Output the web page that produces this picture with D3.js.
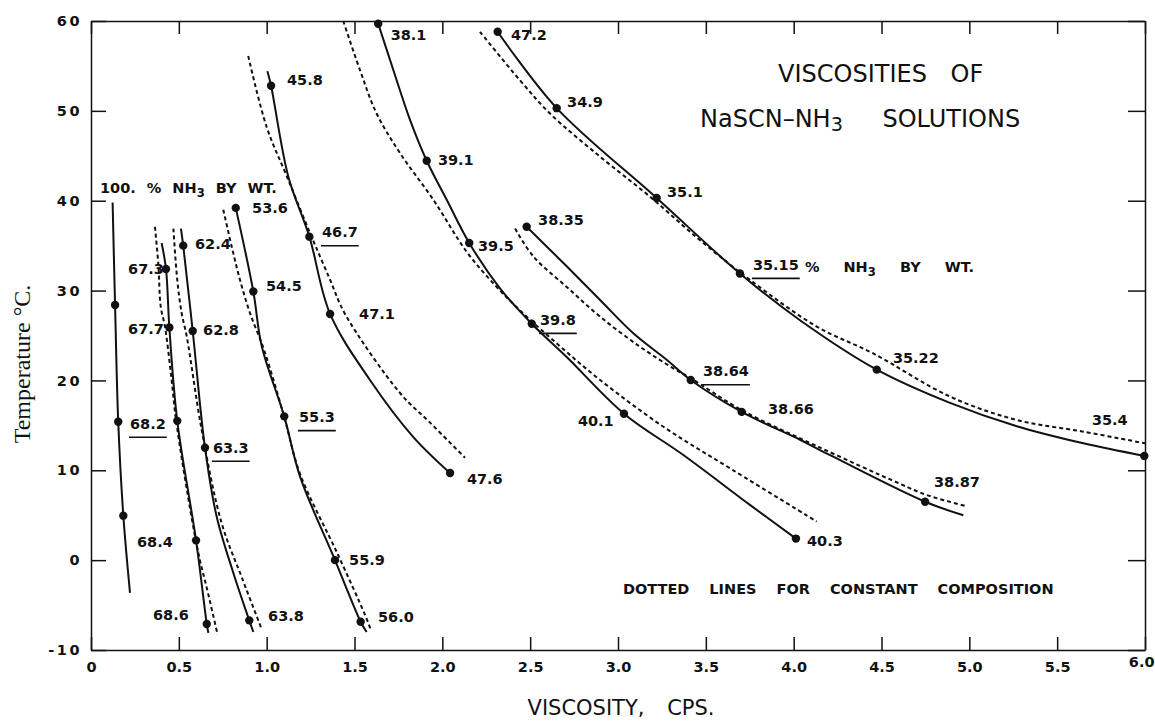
<!DOCTYPE html>
<html lang="en">
<head>
<meta charset="UTF-8">
<title>Viscosities of NaSCN-NH3 Solutions</title>
<script src="https://cdn.jsdelivr.net/npm/d3@7"></script>
<style>
    body { margin: 0; background: #fff; }
    .axis path, .axis line { stroke: #111; stroke-width: 1.5px; }
    .axis text { font-family: "DejaVu Sans", sans-serif; font-weight: bold; font-size: 14.5px; fill: #111; }
    .y-axis text { letter-spacing: 2.5px; }
    .curve { fill: none; stroke: #111; stroke-width: 2px; }
    .curve.dotted { stroke-dasharray: 4,3; }
    .pt { fill: #111; }
    .lbl { font-family: "DejaVu Sans", sans-serif; font-weight: bold; font-size: 14.5px; fill: #111; }
    .title { font-family: "DejaVu Sans", sans-serif; font-size: 24px; fill: #111; }
    .xtitle { font-family: "DejaVu Sans", sans-serif; font-size: 21px; fill: #111; word-spacing: 16px; }
    .ytitle { font-family: "Liberation Serif", "DejaVu Serif", serif; font-size: 24px; fill: #111; }
</style>
</head>
<body>
<div id="chart"></div>
<script>
// viscosity (cps), temperature (°C)
// solid lines = measured series, dotted = constant composition
const solid100 = [[0.123,39.8],[0.137,28.4],[0.155,15.4],[0.184,4.95],[0.222,-3.65]];
const pts100 = [[0.137,28.4],[0.155,15.4],[0.184,4.95]];

const solid67 = [[0.402,35.3],[0.427,32.4],[0.446,25.9],[0.491,15.5],[0.598,2.2],[0.659,-7.1],[0.668,-8.1]];
const dotted67 = [[0.364,37.1],[0.383,33.0],[0.397,28.2],[0.421,26.0],[0.459,20.05],[0.484,15.6],[0.575,4.5],[0.620,0.0],[0.658,-3.0],[0.721,-8.3]];
const pts67 = [[0.427,32.4],[0.446,25.9],[0.491,15.5],[0.598,2.2],[0.659,-7.1]];

const solid62 = [[0.512,36.9],[0.525,35.0],[0.579,25.5],[0.649,12.5],[0.716,4.8],[0.814,-1.65],[0.901,-6.7],[0.924,-8.0]];
const dotted62 = [[0.469,36.9],[0.491,31.2],[0.516,27.5],[0.545,24.9],[0.630,14.5],[0.744,4.1],[0.860,-2.0],[0.972,-7.7]];
const pts62 = [[0.525,35.0],[0.579,25.5],[0.649,12.5],[0.901,-6.7]];

const solid53 = [[0.824,39.2],[0.924,29.9],[0.972,23.8],[1.100,16.0],[1.190,9.3],[1.389,0.0],[1.535,-6.85],[1.569,-8.0]];
const dotted53 = [[0.753,39.0],[0.801,34.9],[0.848,31.2],[0.905,27.5],[0.985,23.4],[1.099,16.0],[1.190,9.6],[1.406,0.6],[1.560,-6.1],[1.594,-7.8]];
const pts53 = [[0.824,39.2],[0.924,29.9],[1.100,16.0],[1.389,0.0],[1.535,-6.85]];

const solid45 = [[1.004,54.4],[1.025,52.8],[1.123,42.7],[1.243,36.0],[1.361,27.4],[1.588,20.05],[1.835,13.7],[2.044,9.7]];
const dotted45 = [[0.895,56.1],[1.000,48.2],[1.114,42.75],[1.247,36.4],[1.361,31.2],[1.446,27.4],[1.759,18.6],[1.930,15.3],[2.129,11.4]];
const pts45 = [[1.025,52.8],[1.243,36.0],[1.361,27.4],[2.044,9.7]];

const solid38 = [[1.635,59.7],[1.721,54.55],[1.816,49.0],[1.911,44.45],[2.025,40.1],[2.153,35.3],[2.328,30.25],[2.509,26.3],[2.708,22.6],[3.034,16.3],[3.372,11.7],[3.751,6.15],[4.013,2.4]];
const dotted38 = [[1.436,60.0],[1.531,54.55],[1.626,49.7],[1.759,45.3],[1.949,40.1],[2.139,34.3],[2.300,30.6],[2.442,27.8],[2.670,23.8],[2.898,20.05],[3.258,14.85],[3.656,10.0],[4.131,4.3]];
const pts38 = [[1.635,59.7],[1.911,44.45],[2.153,35.3],[2.509,26.3],[3.034,16.3],[4.013,2.4]];

const solid383 = [[2.480,37.1],[2.708,32.7],[2.898,28.95],[3.087,25.25],[3.277,22.3],[3.414,20.05],[3.704,16.5],[4.036,13.4],[4.131,12.45],[4.748,6.5],[4.966,5.0]];
const dotted383 = [[2.414,36.9],[2.518,33.8],[2.708,30.4],[2.898,27.1],[3.125,23.75],[3.315,21.35],[3.414,20.25],[3.704,16.7],[4.131,12.7],[4.605,8.5],[4.757,7.25],[4.985,6.0]];
const pts383 = [[2.480,37.1],[3.414,20.05],[3.704,16.5],[4.748,6.5]];

const solid47 = [[2.315,58.8],[2.651,50.3],[3.220,40.3],[3.694,31.9],[4.036,26.7],[4.473,21.2],[4.890,17.5],[5.270,14.9],[5.649,13.0],[5.996,11.6]];
const dotted47 = [[2.214,58.8],[2.442,53.4],[2.613,49.7],[2.898,44.9],[3.182,40.45],[3.467,35.6],[3.751,31.2],[4.131,26.0],[4.453,23.0],[4.890,18.2],[5.270,15.6],[5.649,14.3],[6.0,13.0]];
const pts47 = [[2.315,58.8],[2.651,50.3],[3.220,40.3],[3.694,31.9],[4.473,21.2],[5.996,11.6]];

// % NH3 by wt at the points: text, x, y, underlined
const labels = [
    ["45.8",1.116,53.43,0], ["53.6",0.917,39.16,0], ["62.4",0.592,35.26,0], ["46.7",1.315,36.55,1],
    ["67.3",0.211,32.37,0], ["54.5",0.996,30.51,0], ["47.1",1.526,27.47,0], ["67.7",0.211,25.80,0],
    ["62.8",0.638,25.61,0], ["68.2",0.222,15.23,1], ["55.3",1.184,15.97,1], ["63.3",0.694,12.56,1],
    ["68.4",0.262,2.05,0], ["55.9",1.469,0.02,0], ["68.6",0.353,-6.10,0], ["63.8",1.008,-6.21,0],
    ["56.0",1.634,-6.29,0], ["47.6",2.140,9.11,0], ["40.1",2.772,15.49,0], ["38.64",3.484,21.08,1],
    ["38.66",3.854,16.90,0], ["38.87",4.799,8.73,0], ["40.3",4.076,2.13,0], ["35.4",5.698,15.60,0],
    ["38.1",1.706,58.44,0], ["47.2",2.391,58.44,0], ["34.9",2.710,51.02,0], ["39.1",1.975,44.61,0],
    ["35.1",3.279,41.00,0], ["38.35",2.545,37.85,0], ["39.5",2.203,34.99,0], ["35.15",3.768,32.92,1],
    ["39.8",2.556,26.80,1], ["35.22",4.565,22.50,0]
];

const xTicks = [0,0.5,1,1.5,2,2.5,3,3.5,4,4.5,5,5.5,6];
const yTicks = [-10,0,10,20,30,40,50,60];

const W = 1155, H = 727;
const margin = { top: 21, right: 10, bottom: 77, left: 91 };
const width = W - margin.left - margin.right;
const height = H - margin.top - margin.bottom;

const svg = d3.select("#chart").append("svg").attr("width", W).attr("height", H);
const g = svg.append("g").attr("transform", `translate(${margin.left},${margin.top})`);

const x = d3.scaleLinear().domain([0, 6]).range([0, width]);
const y = d3.scaleLinear().domain([-10, 60]).range([height, 0]);

// axes, ticks point inward on all four sides
const xAxis = g.append("g").attr("class", "axis x-axis").attr("transform", `translate(0,${height})`)
    .call(d3.axisBottom(x).tickValues(xTicks).tickFormat(d => d === 0 ? "0" : d3.format(".1f")(d))
        .tickSizeInner(-13).tickSizeOuter(0).tickPadding(12));
// last label sits at the page edge, keep it inside
xAxis.selectAll(".tick text").filter(d => d === 6).attr("text-anchor", "end").attr("x", 9).attr("y", 7);

g.append("g").attr("class", "axis")
    .call(d3.axisTop(x).tickValues(xTicks).tickFormat("").tickSizeInner(-13).tickSizeOuter(0));
g.append("g").attr("class", "axis y-axis")
    .call(d3.axisLeft(y).tickValues(yTicks).tickFormat(d => String(d))
        .tickSizeInner(-15).tickSizeOuter(0).tickPadding(9));
g.append("g").attr("class", "axis").attr("transform", `translate(${width},0)`)
    .call(d3.axisRight(y).tickValues(yTicks).tickFormat("").tickSizeInner(-17).tickSizeOuter(0));

const line = d3.line().x(d => x(d[0])).y(d => y(d[1])).curve(d3.curveCatmullRom.alpha(0.5));

[dotted67, dotted62, dotted53, dotted45, dotted38, dotted383, dotted47].forEach(s => {
    g.append("path").attr("class", "curve dotted").attr("d", line(s));
});
[solid100, solid67, solid62, solid53, solid45, solid38, solid383, solid47].forEach(s => {
    g.append("path").attr("class", "curve").attr("d", line(s));
});

const allPts = [].concat(pts100, pts67, pts62, pts53, pts45, pts38, pts383, pts47);
g.selectAll(".pt").data(allPts).enter().append("circle")
    .attr("class", "pt")
    .attr("cx", d => x(d[0]))
    .attr("cy", d => y(d[1]))
    .attr("r", 4.2);

// point labels
labels.forEach(([t, lx, ly, u]) => {
    const txt = g.append("text").attr("class", "lbl")
        .attr("x", x(lx)).attr("y", y(ly)).attr("dy", "0.36em").text(t);
    if (u) {
        const w = txt.node().getComputedTextLength();
        g.append("line").attr("x1", x(lx) - 1).attr("x2", x(lx) + w + 1)
            .attr("y1", y(ly) + 14).attr("y2", y(ly) + 14)
            .attr("stroke", "#111").attr("stroke-width", 1.6);
    }
});

// annotation texts with subscript 3
function nh3Text(cls, tx, ty, before, after, ws) {
    const t = g.append("text").attr("class", cls).attr("x", x(tx)).attr("y", y(ty)).attr("dy", "0.36em")
        .style("word-spacing", ws);
    t.append("tspan").text(before);
    t.append("tspan").attr("dy", 4).style("font-size", "0.8em").text("3");
    t.append("tspan").attr("dy", -4).text(after);
    return t;
}
nh3Text("lbl", 0.051, 41.42, "100. % NH", " BY WT.", "6px");
nh3Text("lbl", 4.064, 32.66, "% NH", " BY WT.", "19px");

g.append("text").attr("class", "title").attr("x", x(3.911)).attr("y", y(54.18)).attr("dy", "0.36em")
    .style("word-spacing", "16px").text("VISCOSITIES OF");
nh3Text("title", 3.467, 49.17, "NaSCN\u2013NH", " SOLUTIONS", "32px");

g.append("text").attr("class", "lbl").attr("x", x(3.028)).attr("y", y(-3.24)).attr("dy", "0.36em")
    .style("word-spacing", "15px").text("DOTTED LINES FOR CONSTANT COMPOSITION");

// axis titles
svg.append("text").attr("class", "xtitle").attr("x", 621).attr("y", 707).attr("dy", "0.36em")
    .attr("text-anchor", "middle").text("VISCOSITY, CPS.");
svg.append("text").attr("class", "ytitle").attr("transform", "translate(21,364) rotate(-90)")
    .attr("dy", "0.36em").attr("text-anchor", "middle").text("Temperature \u00B0C.");
</script>
</body>
</html>
